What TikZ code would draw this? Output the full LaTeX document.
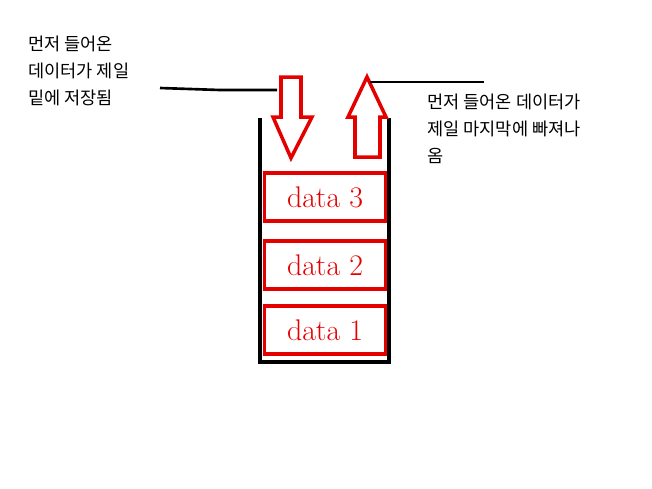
\documentclass[tikz,border=0pt]{standalone}
\usepackage{fontspec}
\newfontfamily\kor{Noto Sans CJK KR}
\usetikzlibrary{positioning}

\begin{document}
\begin{tikzpicture}[
x=0.02cm,y=-0.02cm,
databox/.style={
	draw=red!90!black,
	line width=2.2pt,
	minimum width=2.42cm,
	minimum height=0.96cm,
	text=red!90!black,
	font=\fontsize{17}{17}\selectfont
},
note/.style={
	align=left,
	anchor=north west,
	inner sep=0pt,
	font=\kor\fontsize{10}{15.3}\selectfont
},
hollow/.style={
	draw=red!90!black,
	line width=2pt,
	line join=miter
}
]
\useasboundingbox (0,0) rectangle (652,488);

% container
\draw[line width=2pt] (260,118) -- (260,362) -- (389,362) -- (389,118);

\node[databox] (d3) at (325,197) {data 3};
\node[databox] (d2) at (325,265) {data 2};
\node[databox] (d1) at (325,330) {data 1};

% arrows
\draw[hollow] (281,77) -- (301,77) -- (301,117) -- (312,117) -- (291,158)
	-- (273,117) -- (281,117) -- cycle;
\draw[hollow] (367,77) -- (386,117) -- (380,117) -- (380,157) -- (355,157)
	-- (355,117) -- (348,117) -- cycle;

\node[note] (inNote) at (28,36) {먼저 들어온\\데이터가 제일\\밑에 저장됨};
\node[note] (outNote) at (427,94) {먼저 들어온 데이터가\\제일 마지막에 빠져나\\옴};

\coordinate (inEnd) at (277,90);
\coordinate (outEnd) at (370,82);
\draw[line width=1.5pt] (160,88) -- (220,90) -- (inEnd);
\draw[line width=1.5pt] (outEnd) -- (484,82);
\end{tikzpicture}
\end{document}
